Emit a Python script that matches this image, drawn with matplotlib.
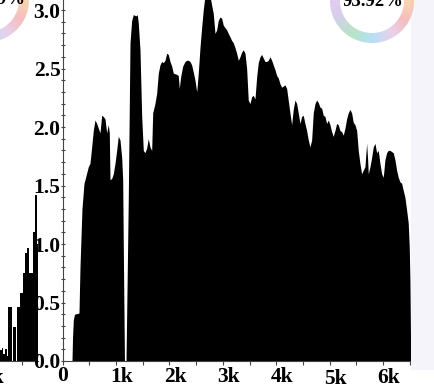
import numpy as np
import matplotlib
matplotlib.use("Agg")
import matplotlib.pyplot as plt
from matplotlib.patches import Wedge, Rectangle
from matplotlib.ticker import MultipleLocator

# ---- spectrum envelope (Hz, amplitude) ----
freq_hz = [174, 184, 199, 221, 305, 324, 361, 399, 418, 479, 511, 543, 573, 605,
           637, 667, 699, 730, 760, 792, 824, 854, 873, 886, 918, 948, 980, 1011,
           1041, 1073, 1105, 1124, 1135, 1157, 1186, 1214, 1229, 1261, 1292, 1322,
           1373, 1397, 1416, 1448, 1480, 1510, 1541, 1573, 1603, 1635, 1667, 1686,
           1728, 1761, 1791, 1822, 1854, 1884, 1916, 1948, 1978, 2010, 2042, 2072,
           2135, 2165, 2184, 2210, 2248, 2291, 2323, 2353, 2384, 2416, 2446, 2478,
           2510, 2540, 2572, 2603, 2633, 2665, 2712, 2759, 2787, 2821, 2853, 2885,
           2914, 2946, 2978, 3008, 3040, 3072, 3102, 3134, 3165, 3195, 3227, 3259,
           3289, 3321, 3353, 3383, 3415, 3446, 3476, 3508, 3540, 3570, 3602, 3634,
           3664, 3696, 3727, 3757, 3789, 3821, 3851, 3883, 3915, 3945, 3977, 4008,
           4038, 4070, 4102, 4132, 4164, 4195, 4225, 4257, 4289, 4319, 4351, 4383,
           4413, 4445, 4476, 4506, 4538, 4570, 4600, 4632, 4664, 4694, 4726, 4757,
           4787, 4819, 4851, 4881, 4913, 4945, 4975, 5006, 5038, 5068, 5100, 5132,
           5162, 5194, 5226, 5256, 5288, 5319, 5349, 5381, 5413, 5443, 5475, 5507,
           5537, 5568, 5600, 5630, 5662, 5694, 5713, 5724, 5756, 5788, 5818, 5850,
           5881, 5911, 5943, 5975, 6005, 6037, 6068, 6098, 6130, 6162, 6192, 6224,
           6256, 6286, 6318, 6349, 6379, 6411, 6443, 6473, 6492, 6505, 6518, 6524]
amplitude = [0.0, 0.2, 0.35, 0.40, 0.41, 0.8, 1.3, 1.52, 1.55, 1.66, 1.69, 1.83, 1.97, 2.06,
             2.03, 1.99, 1.95, 2.10, 2.09, 2.07, 1.95, 2.02, 1.95, 1.55, 1.56, 1.60, 1.69, 1.80,
             1.92, 1.89, 1.74, 1.55, 1.0, 0.0, 0.0, 0.9, 1.40, 2.72, 2.91, 2.96,
             2.95, 2.96, 2.89, 2.66, 2.09, 1.80, 1.78, 1.82, 1.90, 1.83, 1.80, 2.12,
             2.20, 2.29, 2.46, 2.53, 2.56, 2.55, 2.57, 2.63, 2.62, 2.56, 2.52, 2.46,
             2.45, 2.44, 2.33, 2.43, 2.52, 2.56, 2.57, 2.57, 2.56, 2.53, 2.47, 2.40,
             2.30, 2.46, 2.68, 2.85, 3.0, 3.12, 3.15, 3.12, 3.05, 2.97, 2.80, 2.83,
             2.91, 2.94, 2.93, 2.87, 2.85, 2.83, 2.80, 2.77, 2.74, 2.72, 2.68, 2.63,
             2.57, 2.60, 2.64, 2.66, 2.63, 2.50, 2.23, 2.20, 2.26, 2.27, 2.24, 2.43,
             2.55, 2.60, 2.62, 2.59, 2.56, 2.56, 2.57, 2.60, 2.57, 2.53, 2.49, 2.44,
             2.42, 2.37, 2.34, 2.35, 2.36, 2.33, 2.23, 2.12, 2.02, 2.15, 2.23, 2.20,
             2.12, 2.03, 2.09, 2.10, 2.03, 1.97, 1.89, 1.83, 1.89, 2.12, 2.20, 2.23,
             2.21, 2.17, 2.16, 2.10, 2.09, 2.03, 2.06, 2.02, 1.96, 1.92, 1.97, 2.03,
             2.02, 1.97, 1.96, 1.93, 1.99, 2.07, 2.12, 2.15, 2.12, 2.04, 2.02, 1.97,
             1.80, 1.69, 1.60, 1.63, 1.66, 1.86, 1.72, 1.60, 1.66, 1.74, 1.83, 1.86,
             1.78, 1.80, 1.69, 1.60, 1.57, 1.72, 1.78, 1.80, 1.80, 1.79, 1.78, 1.72,
             1.63, 1.57, 1.53, 1.52, 1.46, 1.40, 1.29, 1.18, 0.98, 0.69, 0.10, 0.0]

x_ticks = [0, 1000, 2000, 3000, 4000, 5000, 6000]
x_tick_labels = ["0", "1k", "2k", "3k", "4k", "5k", "6k"]
y_ticks = [0.0, 0.5, 1.0, 1.5, 2.0, 2.5, 3.0]
y_tick_labels = ["0.0", "0.5", "1.0", "1.5", "2.0", "2.5", "3.0"]

# ---- neighbouring panel (tail of previous spectrum) ----
prev_edges = [0, 1.7, 3.3, 5, 6.7, 8.3, 11.7, 12.6, 16, 16.8, 20, 22.7, 25,
              27.3, 29.3, 33.3, 35, 36.7, 38.3]
prev_heights = [0.09, 0.11, 0.06, 0.10, 0.04, 0.46, 0.0, 0.29, 0.0, 0.46, 0.58,
                0.75, 0.92, 0.97, 0.75, 1.10, 1.42, 1.00]

# ---- score rings ----
ring_labels = ["96.49%", "93.92%"]

W, H = 435, 388
SERIF = "Liberation Serif"
TICK_FS = 15.5
INK = "#444444"

fig = plt.figure(figsize=(W / 100, H / 100), dpi=100)
fig.patch.set_facecolor("white")


def px_box(x0, y0, x1, y1):
    return [x0 / W, 1 - y1 / H, (x1 - x0) / W, (y1 - y0) / H]


Y_TOP = 361 / 117.0

# previous panel, partly off the canvas
axp = fig.add_axes(px_box(-25, 0, 38.3, 361))
axp.stairs(prev_heights, prev_edges, fill=True, color="black", lw=0)
axp.set_xlim(-25, 38.3)
axp.set_ylim(0, Y_TOP)
for s in ("top", "right", "left"):
    axp.spines[s].set_visible(False)
axp.spines["bottom"].set_color(INK)
axp.spines["bottom"].set_linewidth(0.8)
axp.set_yticks([])
axp.set_xticks([21.7])
axp.set_xticklabels([])
axp.tick_params(axis="x", direction="out", length=3, width=0.8, color=INK)
axp.annotate("6k", xy=(-13, 0), xycoords=("data", "axes fraction"),
             xytext=(6, -22), textcoords="offset pixels", ha="center",
             va="baseline", fontsize=TICK_FS, fontweight="bold", family=SERIF,
             annotation_clip=False)
axp.patch.set_alpha(0)

# main spectrum
ax = fig.add_axes(px_box(62.7, 0, 411, 361))
ax.fill_between(freq_hz, amplitude, 0, color="black", lw=0)
ax.set_xlim(0, 6525)
ax.set_ylim(0, Y_TOP)
ax.patch.set_alpha(0)
for s in ("top", "right"):
    ax.spines[s].set_visible(False)
for s in ("left", "bottom"):
    ax.spines[s].set_color(INK)
    ax.spines[s].set_linewidth(0.8)

ax.set_yticks(y_ticks)
ax.set_yticklabels(y_tick_labels, fontsize=TICK_FS, fontweight="bold", family=SERIF)
ax.yaxis.set_minor_locator(MultipleLocator(0.1))
ax.tick_params(axis="y", which="both", direction="inout", length=3, width=0.8,
               color=INK, pad=0)

ax.set_xticks(x_ticks)
ax.set_xticklabels([])
ax.xaxis.set_minor_locator(MultipleLocator(500))
ax.tick_params(axis="x", which="both", direction="out", length=3, width=0.8, color=INK)
label_shift = {"0": (0, -20), "5k": (6, -23), "6k": (6, -22)}
for xv, lab in zip(x_ticks, x_tick_labels):
    dx, dy = label_shift.get(lab, (6, -21))
    ax.annotate(lab, xy=(xv, 0), xycoords=("data", "axes fraction"),
                xytext=(dx, dy), textcoords="offset pixels", ha="center",
                va="baseline", fontsize=TICK_FS, fontweight="bold", family=SERIF,
                annotation_clip=False)

# overlay in pixel space for rings and side strip
ov = fig.add_axes([0, 0, 1, 1], zorder=5)
ov.set_xlim(0, W)
ov.set_ylim(0, H)
ov.axis("off")
ov.patch.set_alpha(0)

ov.add_patch(Rectangle((411.5, H - 370), 40, 380, color="#f4f4fa", lw=0, zorder=0))

anchor_deg = [0, 45, 100, 150, 200, 240, 270, 300, 330, 360]
anchor_rgb = np.array([
    [245, 175, 110], [240, 205, 120], [235, 200, 160], [215, 160, 215],
    [185, 160, 225], [120, 205, 150], [115, 195, 235], [210, 170, 220],
    [238, 130, 135], [245, 175, 110]]) / 255.0


def ring_color(a):
    return tuple(np.interp(a % 360, anchor_deg, anchor_rgb[:, k]) for k in range(3))


ring_centers = [(-13, 0), (372, 1)]
ring_text_x = [-5, 373]
for (cx, cy), tx, lab in zip(ring_centers, ring_text_x, ring_labels):
    for a in np.arange(0, 360, 2):
        ov.add_patch(Wedge((cx, H - cy), 42, a, a + 2.3, width=10,
                           color=ring_color(a + 1), lw=0, alpha=0.5))
    ov.text(tx, H - cy, lab, ha="center", va="center", fontsize=13.5,
            fontweight="bold", family=SERIF, color="black")

fig.savefig("out.png", dpi=100)
